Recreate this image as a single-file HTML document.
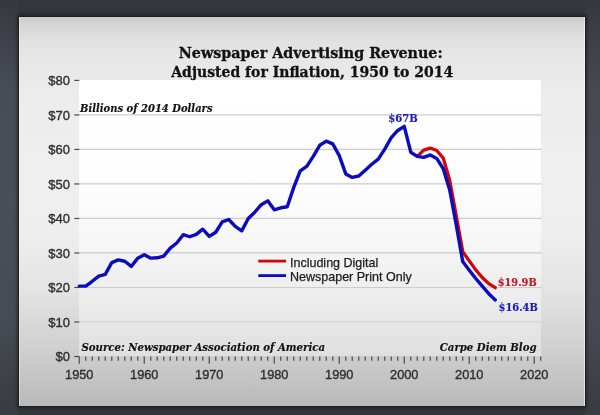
<!DOCTYPE html>
<html><head><meta charset="utf-8"><style>
html,body{margin:0;padding:0;}
body{width:600px;height:415px;overflow:hidden;position:relative;
background:#33363b;}
#lstrip{position:absolute;left:0;top:0;width:18px;height:415px;background:linear-gradient(180deg,#35383d 0px,#3f424a 40px,#484c54 90px,#4a4e56 200px,#474b53 320px,#3d4046 385px,#383b40 415px);}
#rstrip{position:absolute;left:585px;top:0;width:15px;height:415px;background:linear-gradient(180deg,#34373b 0px,#3d4046 40px,#464950 90px,#4a4d55 200px,#474a52 320px,#3d4046 385px,#383b40 415px);}
#slide{position:absolute;left:17.5px;top:15.8px;width:568.4px;height:390.8px;box-sizing:border-box;
border:1px solid #1e1f22;box-shadow:0 0 3px 1px rgba(15,16,18,0.55),inset -1px 0 0 rgba(255,255,255,0.55),inset 1px 0 0 rgba(255,255,255,0.35);
background:linear-gradient(180deg,#cbcbcb 0%,#d6d6d6 2%,#e1e1e1 6%,#e7e7e7 11%,#ececec 20%,#efefef 40%,#eeeeee 55%,#e4e4e4 70%,#d0d0d0 85%,#b9b9b9 100%);}
#plot{position:absolute;left:79.25px;top:80.4px;width:462px;height:276px;
background:linear-gradient(180deg,#ffffff 0%,#fdfdfd 40%,#f5f5f5 62%,#ececec 80%,#e4e4e4 92%,#e0e0e0 100%);}
svg{position:absolute;left:0;top:0;}
.g{stroke:#cdcdcd;stroke-width:1.2;}
.t{stroke:#4a4a4a;stroke-width:1.2;}
.yl{font-family:"Liberation Sans",Arial,sans-serif;font-size:13px;fill:#2e2e2e;stroke:#2e2e2e;stroke-width:0.35;text-anchor:end;}
.xl{font-family:"Liberation Sans",Arial,sans-serif;font-size:12.8px;fill:#2e2e2e;stroke:#2e2e2e;stroke-width:0.35;text-anchor:middle;}
.ti{font-family:"DejaVu Serif",serif;font-weight:bold;font-size:14px;fill:#121212;stroke:#121212;stroke-width:0.3;}
.it{font-family:"DejaVu Serif Condensed","DejaVu Serif",serif;font-weight:bold;font-style:italic;font-size:11.2px;fill:#121212;stroke:#121212;stroke-width:0.15;}
.lb{font-family:"DejaVu Serif",serif;font-weight:bold;font-size:10.8px;stroke-width:0.15;}
.lg{font-family:"Liberation Sans",Arial,sans-serif;font-size:13px;fill:#1c1c1c;stroke:#1c1c1c;stroke-width:0.25;}
</style></head><body>
<div id="lstrip"></div><div id="rstrip"></div>
<div id="slide"></div>
<div id="plot"></div>
<svg width="600" height="415" viewBox="0 0 600 415">
<line x1="79.25" y1="321.99" x2="541.5" y2="321.99" class="g"/><line x1="79.25" y1="287.48" x2="541.5" y2="287.48" class="g"/><line x1="79.25" y1="252.97" x2="541.5" y2="252.97" class="g"/><line x1="79.25" y1="218.46" x2="541.5" y2="218.46" class="g"/><line x1="79.25" y1="183.95" x2="541.5" y2="183.95" class="g"/><line x1="79.25" y1="149.44" x2="541.5" y2="149.44" class="g"/><line x1="79.25" y1="114.93" x2="541.5" y2="114.93" class="g"/>
<line x1="74.3" y1="356.50" x2="79.3" y2="356.50" class="t"/><text x="70" y="361.10" class="yl">$0</text><line x1="74.3" y1="321.99" x2="79.3" y2="321.99" class="t"/><text x="70" y="326.59" class="yl">$10</text><line x1="74.3" y1="287.48" x2="79.3" y2="287.48" class="t"/><text x="70" y="292.08" class="yl">$20</text><line x1="74.3" y1="252.97" x2="79.3" y2="252.97" class="t"/><text x="70" y="257.57" class="yl">$30</text><line x1="74.3" y1="218.46" x2="79.3" y2="218.46" class="t"/><text x="70" y="223.06" class="yl">$40</text><line x1="74.3" y1="183.95" x2="79.3" y2="183.95" class="t"/><text x="70" y="188.55" class="yl">$50</text><line x1="74.3" y1="149.44" x2="79.3" y2="149.44" class="t"/><text x="70" y="154.04" class="yl">$60</text><line x1="74.3" y1="114.93" x2="79.3" y2="114.93" class="t"/><text x="70" y="119.53" class="yl">$70</text><line x1="74.3" y1="80.42" x2="79.3" y2="80.42" class="t"/><text x="70" y="85.02" class="yl">$80</text><line x1="79.25" y1="356.50" x2="79.25" y2="363.70" class="t"/><line x1="85.75" y1="356.50" x2="85.75" y2="360.70" class="t"/><line x1="92.25" y1="356.50" x2="92.25" y2="360.70" class="t"/><line x1="98.75" y1="356.50" x2="98.75" y2="360.70" class="t"/><line x1="105.25" y1="356.50" x2="105.25" y2="360.70" class="t"/><line x1="111.75" y1="356.50" x2="111.75" y2="360.70" class="t"/><line x1="118.25" y1="356.50" x2="118.25" y2="360.70" class="t"/><line x1="124.75" y1="356.50" x2="124.75" y2="360.70" class="t"/><line x1="131.25" y1="356.50" x2="131.25" y2="360.70" class="t"/><line x1="137.75" y1="356.50" x2="137.75" y2="360.70" class="t"/><line x1="144.25" y1="356.50" x2="144.25" y2="363.70" class="t"/><line x1="150.75" y1="356.50" x2="150.75" y2="360.70" class="t"/><line x1="157.25" y1="356.50" x2="157.25" y2="360.70" class="t"/><line x1="163.75" y1="356.50" x2="163.75" y2="360.70" class="t"/><line x1="170.25" y1="356.50" x2="170.25" y2="360.70" class="t"/><line x1="176.75" y1="356.50" x2="176.75" y2="360.70" class="t"/><line x1="183.25" y1="356.50" x2="183.25" y2="360.70" class="t"/><line x1="189.75" y1="356.50" x2="189.75" y2="360.70" class="t"/><line x1="196.25" y1="356.50" x2="196.25" y2="360.70" class="t"/><line x1="202.75" y1="356.50" x2="202.75" y2="360.70" class="t"/><line x1="209.25" y1="356.50" x2="209.25" y2="363.70" class="t"/><line x1="215.75" y1="356.50" x2="215.75" y2="360.70" class="t"/><line x1="222.25" y1="356.50" x2="222.25" y2="360.70" class="t"/><line x1="228.75" y1="356.50" x2="228.75" y2="360.70" class="t"/><line x1="235.25" y1="356.50" x2="235.25" y2="360.70" class="t"/><line x1="241.75" y1="356.50" x2="241.75" y2="360.70" class="t"/><line x1="248.25" y1="356.50" x2="248.25" y2="360.70" class="t"/><line x1="254.75" y1="356.50" x2="254.75" y2="360.70" class="t"/><line x1="261.25" y1="356.50" x2="261.25" y2="360.70" class="t"/><line x1="267.75" y1="356.50" x2="267.75" y2="360.70" class="t"/><line x1="274.25" y1="356.50" x2="274.25" y2="363.70" class="t"/><line x1="280.75" y1="356.50" x2="280.75" y2="360.70" class="t"/><line x1="287.25" y1="356.50" x2="287.25" y2="360.70" class="t"/><line x1="293.75" y1="356.50" x2="293.75" y2="360.70" class="t"/><line x1="300.25" y1="356.50" x2="300.25" y2="360.70" class="t"/><line x1="306.75" y1="356.50" x2="306.75" y2="360.70" class="t"/><line x1="313.25" y1="356.50" x2="313.25" y2="360.70" class="t"/><line x1="319.75" y1="356.50" x2="319.75" y2="360.70" class="t"/><line x1="326.25" y1="356.50" x2="326.25" y2="360.70" class="t"/><line x1="332.75" y1="356.50" x2="332.75" y2="360.70" class="t"/><line x1="339.25" y1="356.50" x2="339.25" y2="363.70" class="t"/><line x1="345.75" y1="356.50" x2="345.75" y2="360.70" class="t"/><line x1="352.25" y1="356.50" x2="352.25" y2="360.70" class="t"/><line x1="358.75" y1="356.50" x2="358.75" y2="360.70" class="t"/><line x1="365.25" y1="356.50" x2="365.25" y2="360.70" class="t"/><line x1="371.75" y1="356.50" x2="371.75" y2="360.70" class="t"/><line x1="378.25" y1="356.50" x2="378.25" y2="360.70" class="t"/><line x1="384.75" y1="356.50" x2="384.75" y2="360.70" class="t"/><line x1="391.25" y1="356.50" x2="391.25" y2="360.70" class="t"/><line x1="397.75" y1="356.50" x2="397.75" y2="360.70" class="t"/><line x1="404.25" y1="356.50" x2="404.25" y2="363.70" class="t"/><line x1="410.75" y1="356.50" x2="410.75" y2="360.70" class="t"/><line x1="417.25" y1="356.50" x2="417.25" y2="360.70" class="t"/><line x1="423.75" y1="356.50" x2="423.75" y2="360.70" class="t"/><line x1="430.25" y1="356.50" x2="430.25" y2="360.70" class="t"/><line x1="436.75" y1="356.50" x2="436.75" y2="360.70" class="t"/><line x1="443.25" y1="356.50" x2="443.25" y2="360.70" class="t"/><line x1="449.75" y1="356.50" x2="449.75" y2="360.70" class="t"/><line x1="456.25" y1="356.50" x2="456.25" y2="360.70" class="t"/><line x1="462.75" y1="356.50" x2="462.75" y2="360.70" class="t"/><line x1="469.25" y1="356.50" x2="469.25" y2="363.70" class="t"/><line x1="475.75" y1="356.50" x2="475.75" y2="360.70" class="t"/><line x1="482.25" y1="356.50" x2="482.25" y2="360.70" class="t"/><line x1="488.75" y1="356.50" x2="488.75" y2="360.70" class="t"/><line x1="495.25" y1="356.50" x2="495.25" y2="360.70" class="t"/><line x1="501.75" y1="356.50" x2="501.75" y2="360.70" class="t"/><line x1="508.25" y1="356.50" x2="508.25" y2="360.70" class="t"/><line x1="514.75" y1="356.50" x2="514.75" y2="360.70" class="t"/><line x1="521.25" y1="356.50" x2="521.25" y2="360.70" class="t"/><line x1="527.75" y1="356.50" x2="527.75" y2="360.70" class="t"/><line x1="534.25" y1="356.50" x2="534.25" y2="363.70" class="t"/><line x1="540.75" y1="356.50" x2="540.75" y2="360.70" class="t"/><text x="79.25" y="378.8" class="xl">1950</text><text x="144.25" y="378.8" class="xl">1960</text><text x="209.25" y="378.8" class="xl">1970</text><text x="274.25" y="378.8" class="xl">1980</text><text x="339.25" y="378.8" class="xl">1990</text><text x="404.25" y="378.8" class="xl">2000</text><text x="469.25" y="378.8" class="xl">2010</text><text x="534.25" y="378.8" class="xl">2020</text>
<text x="178.75" y="57.8" class="ti" textLength="264" lengthAdjust="spacingAndGlyphs">Newspaper Advertising Revenue:</text>
<text x="171.25" y="76.9" class="ti" textLength="282" lengthAdjust="spacingAndGlyphs">Adjusted for Inflation, 1950 to 2014</text>
<text x="80" y="112" class="it" textLength="132.5" lengthAdjust="spacingAndGlyphs">Billions of 2014 Dollars</text>
<text x="81.5" y="350.6" class="it" textLength="243.5" lengthAdjust="spacingAndGlyphs">Source: Newspaper Association of America</text>
<text x="439.75" y="350.6" class="it" textLength="96.85" lengthAdjust="spacingAndGlyphs">Carpe Diem Blog</text>
<polyline points="417.25,156.34 423.75,150.13 430.25,148.06 436.75,150.48 443.25,158.07 449.75,180.50 456.25,215.70 462.75,251.59 469.25,260.91 475.75,269.88 482.25,277.47 488.75,283.68 495.25,287.65" fill="none" stroke="#cc0808" stroke-width="3.3" stroke-linejoin="round" stroke-linecap="round"/>
<polyline points="79.25,286.10 85.75,286.10 92.25,281.27 98.75,276.09 105.25,274.37 111.75,262.63 118.25,259.87 124.75,261.25 131.25,266.43 137.75,258.15 144.25,254.70 150.75,258.15 157.25,257.80 163.75,256.08 170.25,248.14 176.75,242.96 183.25,234.68 189.75,236.75 196.25,234.33 202.75,229.16 209.25,236.41 215.75,232.26 222.25,221.91 228.75,219.50 235.25,226.40 241.75,230.88 248.25,218.46 254.75,212.25 261.25,204.66 267.75,200.86 274.25,209.83 280.75,207.76 287.25,206.73 293.75,187.40 300.25,170.84 306.75,166.35 313.25,156.34 319.75,145.30 326.25,141.16 332.75,143.92 339.25,155.65 345.75,173.94 352.25,177.39 358.75,176.01 365.25,170.15 371.75,164.28 378.25,159.10 384.75,149.09 391.25,137.71 397.75,130.46 404.25,126.32 410.75,152.20 417.25,156.34 423.75,157.38 430.25,154.96 436.75,158.41 443.25,168.77 449.75,190.16 456.25,225.02 462.75,261.60 469.25,270.23 475.75,278.51 482.25,286.10 488.75,293.69 495.25,299.90" fill="none" stroke="#0c0cbe" stroke-width="3.4" stroke-linejoin="round" stroke-linecap="round"/>
<line x1="258.3" y1="261.1" x2="286" y2="261.1" stroke="#cc0808" stroke-width="2.8"/>
<line x1="258.3" y1="275.6" x2="286" y2="275.6" stroke="#0c0cbe" stroke-width="2.8"/>
<text x="290" y="266.7" class="lg" textLength="88.3" lengthAdjust="spacingAndGlyphs">Including Digital</text>
<text x="290" y="281.2" class="lg" textLength="121.7" lengthAdjust="spacingAndGlyphs">Newspaper Print Only</text>
<text x="388.3" y="121.5" class="lb" fill="#1a1ab4" stroke="#1a1ab4" textLength="29.6" lengthAdjust="spacingAndGlyphs">$67B</text>
<text x="497.7" y="285.5" class="lb" fill="#c41420" stroke="#c41420" textLength="39" lengthAdjust="spacingAndGlyphs">$19.9B</text>
<text x="498.5" y="310.8" class="lb" fill="#1a1ab4" stroke="#1a1ab4" textLength="39.3" lengthAdjust="spacingAndGlyphs">$16.4B</text>
</svg>
</body></html>
